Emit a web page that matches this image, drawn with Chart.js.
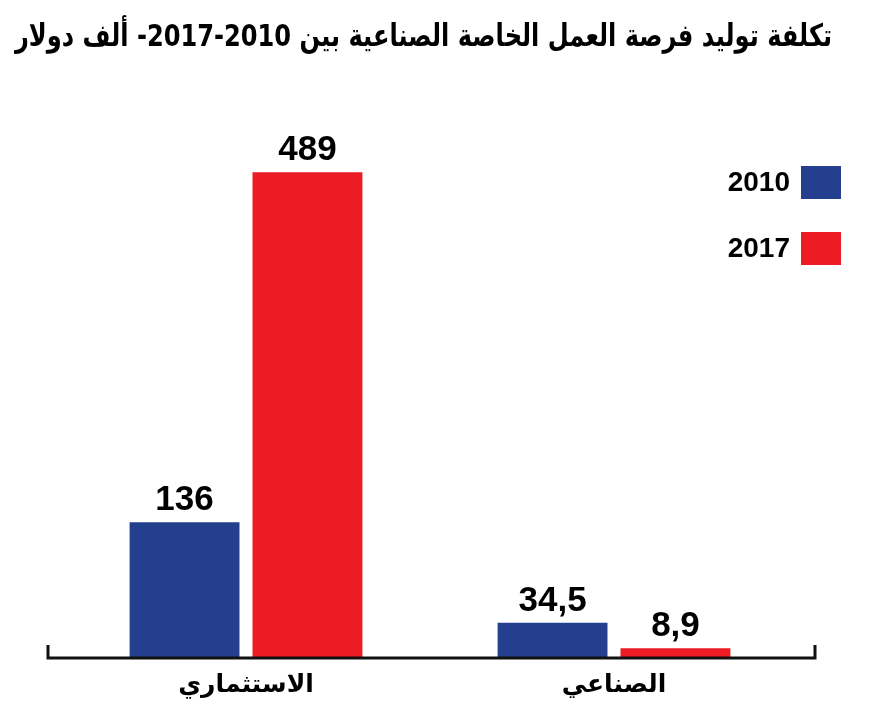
<!DOCTYPE html>
<html><head><meta charset="utf-8">
<script src="https://cdn.jsdelivr.net/npm/chart.js@4/dist/chart.umd.min.js"></script>
<style>html,body{margin:0;padding:0;background:#fff;}#wrap{width:875px;height:723px;}</style>
</head><body><div id="wrap"><canvas id="c" width="875" height="723"></canvas></div>
<script>
const titleText = 'تكلفة توليد فرصة العمل الخاصة الصناعية بين 2010-2017- ألف دولار';
const categories = ['الاستثماري', 'الصناعي'];
const seriesNames = ['2010', '2017'];
const values2010 = [136, 34.5];
const values2017 = [489, 8.9];
const valueLabels2010 = ['136', '34,5'];
const valueLabels2017 = ['489', '8,9'];
const colors = ['#253f8f', '#ed1c24'];

const arabicFont = '"DejaVu Sans", sans-serif';
const numFont = '"Liberation Sans", Arial, sans-serif';

const extras = {
  id: 'extras',
  afterDatasetsDraw(chart) {
    const ctx = chart.ctx;
    const base = chart.scales.y.getPixelForValue(0);
    ctx.save();
    // title
    ctx.fillStyle = '#000';
    ctx.font = 'bold 31px ' + arabicFont;
    ctx.textAlign = 'right';
    ctx.textBaseline = 'alphabetic';
    ctx.direction = 'rtl';
    ctx.fillText(titleText, 832, 46, 817);
    ctx.direction = 'ltr';
    // axis line with end ticks
    ctx.strokeStyle = '#111';
    ctx.lineWidth = 3;
    ctx.beginPath();
    ctx.moveTo(48, base - 12);
    ctx.lineTo(48, base + 1);
    ctx.lineTo(815, base + 1);
    ctx.lineTo(815, base - 12);
    ctx.stroke();
    // value labels
    const labelSets = [valueLabels2010, valueLabels2017];
    ctx.fillStyle = '#000';
    ctx.font = 'bold 35px ' + numFont;
    ctx.textAlign = 'center';
    ctx.textBaseline = 'alphabetic';
    chart.data.datasets.forEach((ds, di) => {
      const meta = chart.getDatasetMeta(di);
      meta.data.forEach((bar, i) => {
        ctx.fillText(labelSets[di][i], bar.x, bar.y - 12);
      });
    });
    // legend
    ctx.font = 'bold 28px ' + numFont;
    ctx.textAlign = 'right';
    ctx.textBaseline = 'middle';
    const legendY = [182, 248];
    chart.data.datasets.forEach((ds, di) => {
      ctx.fillStyle = '#000';
      ctx.fillText(ds.label, 790, legendY[di] + 1);
      ctx.fillStyle = ds.backgroundColor;
      ctx.fillRect(801, legendY[di] - 16, 40, 33);
    });
    ctx.restore();
  }
};

new Chart(document.getElementById('c'), {
  type: 'bar',
  data: {
    labels: categories,
    datasets: [
      { label: seriesNames[0], data: values2010, backgroundColor: colors[0] },
      { label: seriesNames[1], data: values2017, backgroundColor: colors[1] }
    ]
  },
  options: {
    responsive: false,
    animation: false,
    devicePixelRatio: 1,
    categoryPercentage: 0.668,
    barPercentage: 0.894,
    layout: { padding: { left: 62, right: 77, top: 100, bottom: 10 } },
    plugins: {
      legend: { display: false },
      tooltip: { enabled: false },
      title: { display: false }
    },
    scales: {
      x: {
        grid: { display: false, drawTicks: false },
        border: { display: false },
        ticks: { color: '#000', font: { family: arabicFont, size: 25, weight: 'bold' }, padding: 13 }
      },
      y: {
        display: false,
        min: 0,
        max: 562
      }
    }
  },
  plugins: [extras]
});
</script>
</body></html>
